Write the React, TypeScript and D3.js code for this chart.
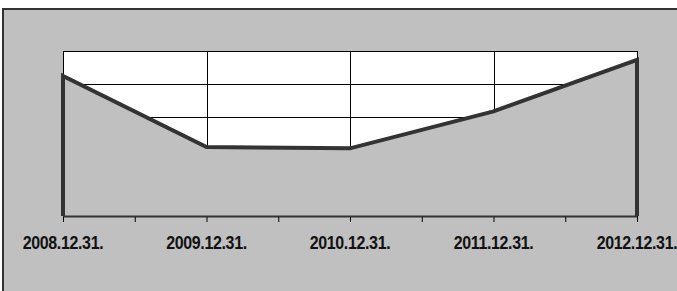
import { useEffect, useRef } from 'react'
import * as d3 from 'd3'

// ─── Data ────────────────────────────────────────────────────────────────────

const categories = ['2008.12.31.', '2009.12.31.', '2010.12.31.', '2011.12.31.', '2012.12.31.']
const values = [4.24, 2.09, 2.05, 3.17, 4.73]
const yTicks = [0, 1, 2, 3, 4, 5]

const colors = {
  bg: '#c0c0c0',
  plot: '#ffffff',
  line: '#333333',
  grid: '#000000',
  text: '#111111',
}

const W = 677
const H = 291
const plot = { left: 63, right: 637, top: 51, bottom: 216 }

export default function App() {
  const ref = useRef<SVGSVGElement>(null)

  useEffect(() => {
    if (!ref.current) return
    const svg = d3.select(ref.current)
    svg.selectAll('*').remove()

    // frame
    svg.append('rect').attr('width', W).attr('height', H).attr('fill', '#ffffff')
    svg.append('rect').attr('x', 2).attr('y', 8).attr('width', W).attr('height', H).attr('fill', colors.bg)
    svg.append('line').attr('x1', 2).attr('x2', W).attr('y1', 9).attr('y2', 9)
      .attr('stroke', colors.line).attr('stroke-width', 2)
    svg.append('line').attr('x1', 3).attr('x2', 3).attr('y1', 8).attr('y2', H)
      .attr('stroke', colors.line).attr('stroke-width', 2)

    const x = d3.scaleLinear().domain([0, categories.length - 1]).range([plot.left, plot.right])
    const y = d3.scaleLinear().domain([0, 5]).range([plot.bottom, plot.top])

    // plot area
    svg.append('rect')
      .attr('x', plot.left + 0.5).attr('y', plot.top + 0.5)
      .attr('width', plot.right - plot.left).attr('height', plot.bottom - plot.top)
      .attr('fill', colors.plot).attr('stroke', colors.grid).attr('stroke-width', 1)

    // grid
    svg.append('g')
      .selectAll('line.h')
      .data(yTicks)
      .join('line')
      .attr('x1', plot.left).attr('x2', plot.right)
      .attr('y1', (d) => Math.round(y(d)) + 0.5).attr('y2', (d) => Math.round(y(d)) + 0.5)
      .attr('stroke', colors.grid).attr('stroke-width', 1)
    svg.append('g')
      .selectAll('line.v')
      .data(categories.map((_, i) => i))
      .join('line')
      .attr('x1', (d) => Math.round(x(d)) + 0.5).attr('x2', (d) => Math.round(x(d)) + 0.5)
      .attr('y1', plot.top).attr('y2', plot.bottom)
      .attr('stroke', colors.grid).attr('stroke-width', 1)

    // area under the line
    const area = d3.area<number>()
      .x((_, i) => x(i))
      .y0(plot.bottom)
      .y1((d) => y(d))
    svg.append('path').datum(values).attr('d', area).attr('fill', colors.bg)

    // outline incl. vertical edges
    const pts: [number, number][] = [
      [x(0), plot.bottom],
      ...values.map((v, i) => [x(i), y(v)] as [number, number]),
      [x(values.length - 1), plot.bottom],
    ]
    svg.append('path')
      .attr('d', d3.line()(pts))
      .attr('fill', 'none')
      .attr('stroke', colors.line)
      .attr('stroke-width', 4)
      .attr('stroke-linejoin', 'miter')

    // x axis with minor ticks
    const tickVals = d3.range(0, categories.length - 0.99, 0.5)
    svg.append('g')
      .attr('transform', `translate(0,${plot.bottom})`)
      .call(d3.axisBottom(x).tickValues(tickVals).tickSize(6).tickFormat(() => ''))
      .call((sel) => sel.select('.domain').attr('stroke', colors.line).attr('stroke-width', 2)
        .attr('d', `M${plot.left},0.5H${plot.right}`))
      .call((sel) => sel.selectAll('.tick line').attr('stroke', colors.grid).attr('y1', 1))

    // category labels (slightly condensed, tall bold face)
    svg.append('g')
      .selectAll('text')
      .data(categories)
      .join('text')
      .attr('transform', (_, i) => `translate(${x(i)},249) scale(1,1.12)`)
      .attr('text-anchor', 'middle')
      .attr('font-family', 'Liberation Sans, Arial, sans-serif')
      .attr('font-weight', 'bold')
      .attr('font-size', 16)
      .attr('letter-spacing', -0.35)
      .attr('fill', colors.text)
      .text((d) => d)
  }, [])

  return (
    <svg ref={ref} width={W} height={H} style={{ display: 'block', position: 'absolute', left: 0, top: 0 }} />
  )
}
